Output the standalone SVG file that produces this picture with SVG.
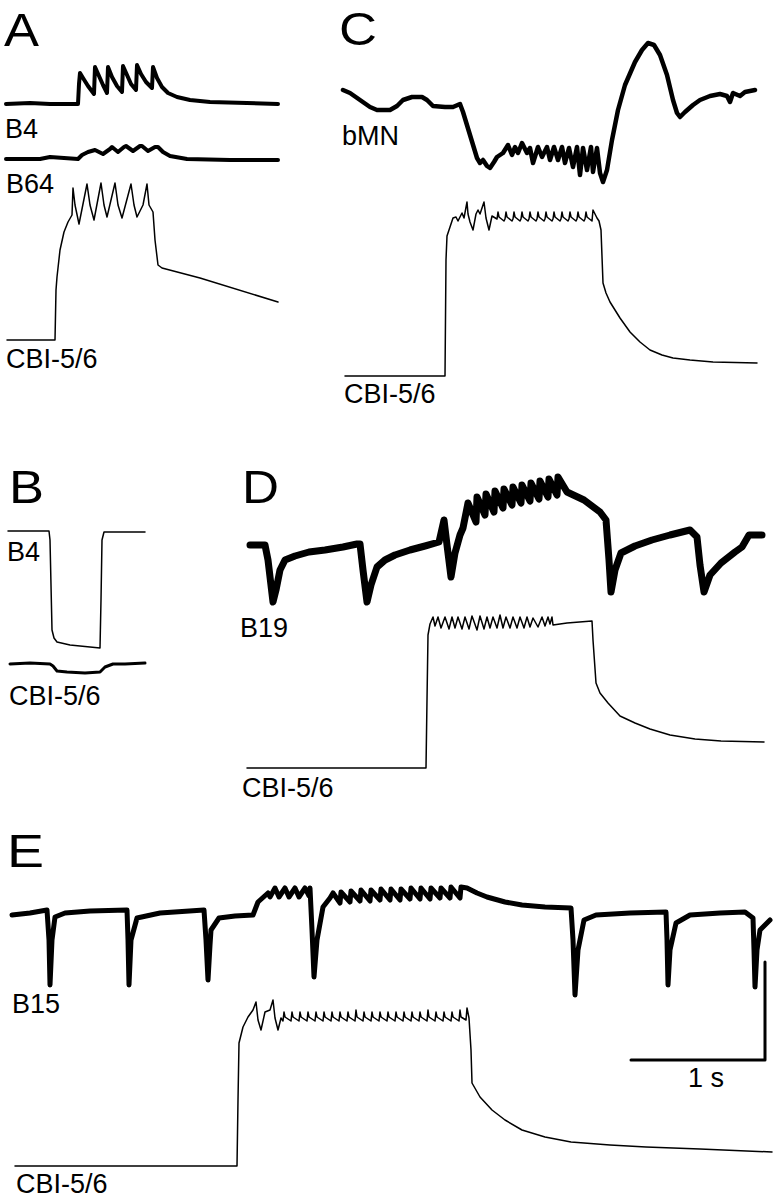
<svg xmlns="http://www.w3.org/2000/svg" width="779" height="1199" viewBox="0 0 779 1199">
<style>
.lbl{font-family:"Liberation Sans",Arial,sans-serif;font-size:27px;fill:#000}
.big{font-family:"Liberation Sans",Arial,sans-serif;font-size:46px;fill:#000}
.tr{fill:none;stroke:#000;stroke-linejoin:round;stroke-linecap:round}
.thin{stroke-width:1.5}
.thick{stroke-width:4}
</style>
<rect width="779" height="1199" fill="#fff"/>
<g id="panelA">
<text class="big" x="4" y="46" textLength="35" lengthAdjust="spacingAndGlyphs">A</text>
<path class="tr thick" d="M6,104 L30,103 L50,104 L78,104 L79,84 L80,73 L83,78 L88,86 L94,94 L95,67 L99,76 L103,85 L107,93 L108,67 L112,77 L117,86 L122,92 L123,66 L127,75 L131,84 L136,90 L137,65 L141,74 L146,82 L152,88 L153,67 L157,78 L162,87 L168,93 L177,97 L190,100 L210,102 L278,104"/>
<text class="lbl" x="5" y="138">B4</text>
<path class="tr thick" d="M6,159 L40,159 L50,157 L78,159 L82,155 L88,152 L95,150 L103,154 L110,149 L112,147 L118,152 L124,147 L126,146 L133,151 L140,146 L142,146 L148,151 L155,147 L158,147 L163,152 L170,156 L187,159 L230,160 L278,160"/>
<text class="lbl" x="6" y="193">B64</text>
<path class="tr thin" d="M7,340 L55,340 L56,290 L57,277 L60,250 L64,232 L68,222 L72,215 L73,188 L75,205 L79,224 L87,184 L90,205 L94,220 L101,183 L104,205 L107,217 L115,183 L118,205 L122,218 L131,184 L134,205 L137,217 L143,205 L147,184 L149,205 L153,212 L155,240 L158,265 L162,268 L200,278 L278,302"/>
<text class="lbl" x="6" y="368">CBI-5/6</text>
</g>
<g id="panelC">
<text class="big" x="339" y="45" textLength="38" lengthAdjust="spacingAndGlyphs">C</text>
<path class="tr" stroke-width="4.5" d="M343,90 L350,93 L360,100 L370,107 L377,110 L390,110 L397,106 L403,100 L412,97 L422,97 L427,100 L433,106 L445,107 L453,107 L460,104 L463,112 L470,135 L477,158 L480,163 L483,160 L487,166 L490,168 L494,162 L497,157 L503,153 L508,145 L512,155 L515,147 L518,153 L522,143 L527,153 L530,148 L533,163 L538,147 L542,157 L547,147 L550,160 L554,147 L558,160 L562,147 L565,163 L569,148 L573,167 L577,147 L580,175 L583,148 L587,170 L591,147 L593,172 L597,148 L600,173 L603,182 L607,170 L612,140 L618,110 L625,85 L635,62 L642,50 L648,43 L654,45 L660,55 L667,75 L673,100 L677,113 L680,117 L685,112 L693,105 L700,100 L710,96 L720,94 L727,96 L730,102 L733,93 L740,96 L745,92 L755,90"/>
<text class="lbl" x="342" y="145">bMN</text>
<path class="tr thin" d="M345,376 L445,376 L446,260 L447,236 L450,227 L453,218 L456,217 L458,221 L462,213 L464,218 L467,202 L468,214 L470,222 L473,230 L476,214 L478,210 L480,214 L484,202 L486,218 L489,230 L492,216 L497,219 L498,212 L499,217 L504,221 L505,219 L506,212 L507,217 L512,221 L513,219 L514,212 L515,217 L520,221 L521,219 L522,212 L523,217 L528,221 L529,219 L530,212 L531,217 L536,221 L537,219 L538,212 L539,217 L544,221 L545,219 L546,212 L547,217 L552,221 L553,219 L554,212 L555,217 L560,221 L561,219 L562,212 L563,217 L568,221 L569,219 L570,212 L571,217 L576,221 L577,219 L578,212 L579,217 L584,221 L585,219 L586,212 L587,217 L592,221 L593,210 L597,218 L599,221 L601,230 L603,283 L606,293 L610,302 L620,318 L630,332 L640,342 L650,350 L662,355 L673,358 L690,360 L713,362 L757,363"/>
<text class="lbl" x="344" y="403">CBI-5/6</text>
</g>
<g id="panelB">
<text class="big" x="9" y="503" textLength="35" lengthAdjust="spacingAndGlyphs">B</text>
<path class="tr thin" d="M8,531 L49,531 L50,540 L52,630 L54,638 L57,642 L70,645 L100,648 L101,600 L102,540 L104,532 L145,532"/>
<text class="lbl" x="7" y="561">B4</text>
<path class="tr" stroke-width="3" d="M10,664 L30,663 L50,664 L53,666 L57,671 L67,672 L85,673 L100,672 L105,667 L113,664 L125,664 L145,663"/>
<text class="lbl" x="9" y="705">CBI-5/6</text>
</g>
<g id="panelD">
<text class="big" x="242" y="503" textLength="37" lengthAdjust="spacingAndGlyphs">D</text>
<path class="tr" stroke-width="7" d="M250,545 L265,545 L268,560 L273,602 L276,590 L280,570 L285,560 L295,556 L309,552 L325,550 L343,547 L357,544 L360,544 L363,570 L367,602 L371,585 L377,567 L385,560 L395,555 L410,550 L425,546 L439,542 L444,520 L447,545 L451,577 L455,553 L460,535 L463,528 L468,503 L476,522 L477,497 L485,515 L486,494 L494,512 L495,491 L503,508 L504,489 L512,505 L513,487 L521,503 L522,485 L530,501 L531,483 L539,499 L540,481 L548,497 L549,479 L557,495 L558,477 L567,492 L584,500 L600,512 L606,520 L609,560 L611,592 L615,570 L621,553 L635,546 L652,540 L670,535 L690,530 L697,537 L700,565 L704,592 L710,575 L721,563 L735,552 L742,547 L749,535 L762,535"/>
<text class="lbl" x="240" y="637">B19</text>
<path class="tr thin" d="M247,768 L426,768 L427,700 L428,635 L430,624 L433,617 L435,626 L438,617 L441,628 L445,617 L449,629 L452,617 L455,628 L458,617 L462,629 L465,617 L469,629 L472,616 L477,630 L480,616 L484,629 L487,617 L490,628 L493,617 L497,628 L500,615 L503,628 L506,617 L510,628 L513,617 L517,628 L520,617 L524,628 L527,617 L530,627 L533,618 L538,627 L542,617 L545,626 L548,617 L550,624 L552,617 L553,625 L567,623 L592,621 L593,640 L596,683 L600,693 L608,703 L620,716 L635,723 L650,729 L670,735 L695,739 L721,741 L764,742"/>
<text class="lbl" x="242" y="797">CBI-5/6</text>
</g>
<g id="panelE">
<text class="big" font-size="44" x="7" y="867" textLength="37" lengthAdjust="spacingAndGlyphs">E</text>
<path class="tr" stroke-width="5" d="M12,915 L30,913 L47,910 L49,940 L50,985 L52,940 L55,917 L65,913 L90,911 L127,910 L128,940 L129,985 L131,940 L137,918 L160,913 L204,910 L206,940 L208,980 L210,945 L211,930 L219,918 L235,916 L253,915 L258,902 L268,893 L270,897 L275,888 L279,897 L285,888 L289,897 L295,888 L299,897 L305,888 L309,896 L310,888 L312,930 L314,977 L317,940 L323,907 L330,898 L333,893 L340,903 L341,892 L350,902 L351,891 L360,901 L361,890 L370,901 L371,890 L380,900 L381,889 L390,900 L391,889 L400,900 L401,889 L410,899 L411,888 L420,899 L421,888 L430,899 L431,888 L440,898 L441,888 L450,898 L451,887 L460,898 L461,887 L467,888 L477,893 L487,897 L505,902 L522,905 L545,907 L571,908 L573,940 L575,995 L578,950 L584,920 L596,915 L630,913 L666,912 L667,940 L668,985 L670,950 L676,923 L690,915 L720,913 L745,912 L753,918 L754,950 L755,987 L757,950 L760,930 L770,920"/>
<text class="lbl" x="12" y="1013">B15</text>
<path class="tr thin" d="M15,1166 L237,1166 L238,1100 L239,1043 L243,1027 L248,1017 L253,1010 L256,1002 L258,1020 L261,1030 L265,1012 L270,1010 L273,1000 L275,1018 L278,1030 L281,1018 L283,1021 L284,1012 L285,1017 L291,1021 L292,1012 L293,1017 L299,1021 L300,1012 L301,1017 L307,1021 L308,1012 L309,1017 L315,1021 L316,1012 L317,1017 L323,1021 L324,1012 L325,1017 L331,1021 L332,1012 L333,1017 L339,1021 L340,1012 L341,1017 L347,1021 L348,1012 L349,1017 L355,1021 L356,1010 L357,1017 L363,1021 L364,1012 L365,1017 L371,1021 L372,1012 L373,1017 L379,1021 L380,1012 L381,1017 L387,1021 L388,1012 L389,1017 L395,1021 L396,1012 L397,1017 L403,1021 L404,1012 L405,1017 L411,1021 L412,1012 L413,1017 L419,1021 L420,1012 L421,1017 L427,1021 L428,1010 L429,1017 L435,1021 L436,1012 L437,1017 L443,1021 L444,1012 L445,1017 L451,1021 L452,1012 L453,1017 L459,1021 L460,1010 L461,1017 L466,1020 L467,1008 L469,1018 L471,1050 L472,1083 L480,1097 L492,1110 L505,1120 L522,1130 L545,1137 L571,1142 L610,1145 L646,1147 L700,1149 L772,1152"/>
<text class="lbl" x="16" y="1193">CBI-5/6</text>
</g>
<g id="scalebar">
<path class="tr" stroke-width="3" stroke-linecap="butt" d="M765,962 L765,1060 L631,1060"/>
<text class="lbl" font-size="24" x="688" y="1087">1 s</text>
</g>
</svg>
